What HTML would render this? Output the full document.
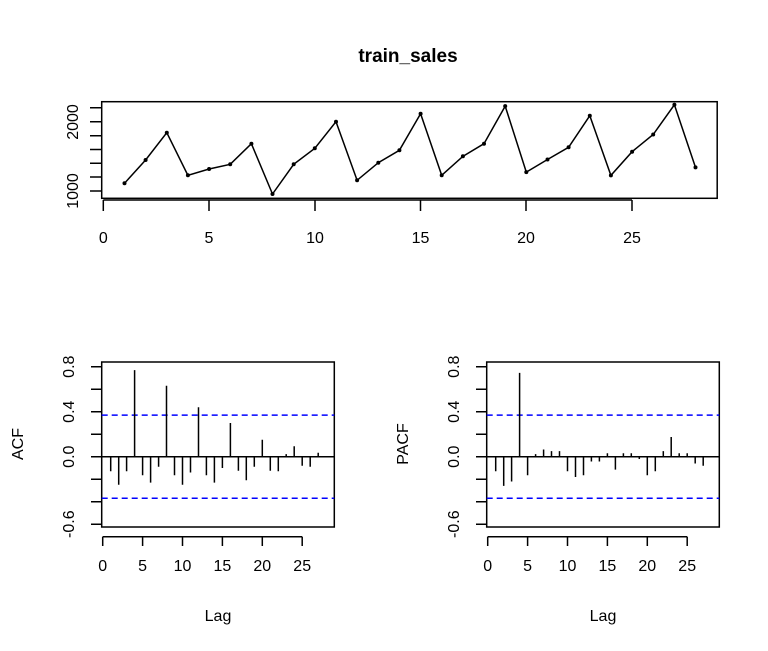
<!DOCTYPE html>
<html><head><meta charset="utf-8"><style>
body{margin:0;background:#fff;}
svg{display:block;font-family:"Liberation Sans",Arial,sans-serif;}
</style></head><body>
<svg width="768" height="651" viewBox="0 0 768 651" xmlns="http://www.w3.org/2000/svg">
<rect width="768" height="651" fill="#fff"/>
<text x="408" y="62" font-size="19" font-weight="bold" text-anchor="middle">train_sales</text>
<g stroke="#000" stroke-width="1.5" fill="none">
<rect x="101.7" y="101.7" width="615.5" height="96.6"/>
<line x1="103.3" y1="200" x2="632" y2="200"/>
<path d="M103.3 200V211M209 200V211M315 200V211M420.5 200V211M526 200V211M632 200V211"/>
<path d="M90 191H101.7M90 177H101.7M90 163.3H101.7M90 149.5H101.7M90 135.7H101.7M90 121.8H101.7M90 107.8H101.7"/>
</g>
<g font-size="16" text-anchor="middle">
<text x="103.3" y="243">0</text><text x="209" y="243">5</text><text x="315" y="243">10</text><text x="420.5" y="243">15</text><text x="526" y="243">20</text><text x="632" y="243">25</text>
<text transform="translate(78,191) rotate(-90)">1000</text>
<text transform="translate(78,122) rotate(-90)">2000</text>
</g>
<polyline fill="none" stroke="#000" stroke-width="1.5" points="124.5,183.3 145.6,160 166.8,132.7 187.9,175.3 209.1,169 230.2,164.3 251.4,143.7 272.5,194 293.7,164.3 314.8,148.3 336,121.7 357.1,180.3 378.3,162.7 399.4,150.3 420.6,113.7 441.7,175.3 462.9,156.3 484,143.7 505.2,106.1 526.3,172.1 547.5,159.5 568.6,147.3 589.8,115.7 610.9,175.4 632.1,151.7 653.2,134.5 674.4,104.8 695.5,167.4"/>
<g fill="#000">
<circle cx="124.5" cy="183.3" r="2"/><circle cx="145.6" cy="160" r="2"/><circle cx="166.8" cy="132.7" r="2"/><circle cx="187.9" cy="175.3" r="2"/><circle cx="209.1" cy="169" r="2"/><circle cx="230.2" cy="164.3" r="2"/><circle cx="251.4" cy="143.7" r="2"/><circle cx="272.5" cy="194" r="2"/><circle cx="293.7" cy="164.3" r="2"/><circle cx="314.8" cy="148.3" r="2"/><circle cx="336" cy="121.7" r="2"/><circle cx="357.1" cy="180.3" r="2"/><circle cx="378.3" cy="162.7" r="2"/><circle cx="399.4" cy="150.3" r="2"/><circle cx="420.6" cy="113.7" r="2"/><circle cx="441.7" cy="175.3" r="2"/><circle cx="462.9" cy="156.3" r="2"/><circle cx="484" cy="143.7" r="2"/><circle cx="505.2" cy="106.1" r="2"/><circle cx="526.3" cy="172.1" r="2"/><circle cx="547.5" cy="159.5" r="2"/><circle cx="568.6" cy="147.3" r="2"/><circle cx="589.8" cy="115.7" r="2"/><circle cx="610.9" cy="175.4" r="2"/><circle cx="632.1" cy="151.7" r="2"/><circle cx="653.2" cy="134.5" r="2"/><circle cx="674.4" cy="104.8" r="2"/><circle cx="695.5" cy="167.4" r="2"/>
</g>

<!-- ACF panel frame (shared) -->
<g id="frame">
<g stroke="#000" stroke-width="1.5" fill="none">
<rect x="101.7" y="362" width="232.6" height="165"/>
<line x1="102.7" y1="536.7" x2="302.2" y2="536.7"/>
<path d="M102.7 536.7V546M142.6 536.7V546M182.5 536.7V546M222.4 536.7V546M262.3 536.7V546M302.2 536.7V546"/>
<path d="M91 366.7H101.7M91 389.2H101.7M91 411.7H101.7M91 434.2H101.7M91 456.7H101.7M91 479.2H101.7M91 501.7H101.7M91 524.2H101.7"/>
<line x1="101.7" y1="456.7" x2="334.3" y2="456.7"/>
</g>
<g stroke="#0000ff" stroke-width="1.5" stroke-dasharray="6,4">
<line x1="101.7" y1="415.1" x2="334.3" y2="415.1"/>
<line x1="101.7" y1="498.3" x2="334.3" y2="498.3"/>
</g>
<g font-size="16" text-anchor="middle">
<text x="102.7" y="571">0</text><text x="142.6" y="571">5</text><text x="182.5" y="571">10</text><text x="222.4" y="571">15</text><text x="262.3" y="571">20</text><text x="302.2" y="571">25</text>
<text transform="translate(74,366.7) rotate(-90)">0.8</text>
<text transform="translate(74,411.7) rotate(-90)">0.4</text>
<text transform="translate(74,456.7) rotate(-90)">0.0</text>
<text transform="translate(74,524.2) rotate(-90)">-0.6</text>
<text x="218" y="621">Lag</text>
</g>
</g>
<use href="#frame" transform="translate(385,0)"/>
<g font-size="16" text-anchor="middle">
<text transform="translate(23,444) rotate(-90)">ACF</text>
<text transform="translate(408,444) rotate(-90)">PACF</text>
</g>
<path stroke="#000" stroke-width="1.5" fill="none" d="M110.7 456.7V471.3M118.7 456.7V484.8M126.6 456.7V471.3M134.6 456.7V370.1M142.6 456.7V475.3M150.6 456.7V482.6M158.6 456.7V466.8M166.5 456.7V385.8M174.5 456.7V475.3M182.5 456.7V484.8M190.5 456.7V472.5M198.5 456.7V407.2M206.4 456.7V475.3M214.4 456.7V482.6M222.4 456.7V468M230.4 456.7V423M238.4 456.7V470.8M246.3 456.7V480.3M254.3 456.7V466.8M262.3 456.7V439.8M270.3 456.7V470.8M278.3 456.7V471.3M286.2 456.7V454.1M294.2 456.7V446.2M302.2 456.7V465.7M310.2 456.7V466.8M318.2 456.7V452.8"/>
<path transform="translate(385,0)" stroke="#000" stroke-width="1.5" fill="none" d="M110.7 456.7V471.3M118.7 456.7V485.9M126.6 456.7V481.5M134.6 456.7V372.9M142.6 456.7V475.3M150.6 456.7V454.1M158.6 456.7V449.5M166.5 456.7V451.1M174.5 456.7V451.1M182.5 456.7V471.3M190.5 456.7V477M198.5 456.7V475.3M206.4 456.7V461.5M214.4 456.7V461.5M222.4 456.7V453.3M230.4 456.7V469.6M238.4 456.7V453.3M246.3 456.7V453.3M254.3 456.7V459M262.3 456.7V475.3M270.3 456.7V471.3M278.3 456.7V451.1M286.2 456.7V437M294.2 456.7V453.3M302.2 456.7V453.3M310.2 456.7V463.5M318.2 456.7V465.7"/>
</svg>
</body></html>
